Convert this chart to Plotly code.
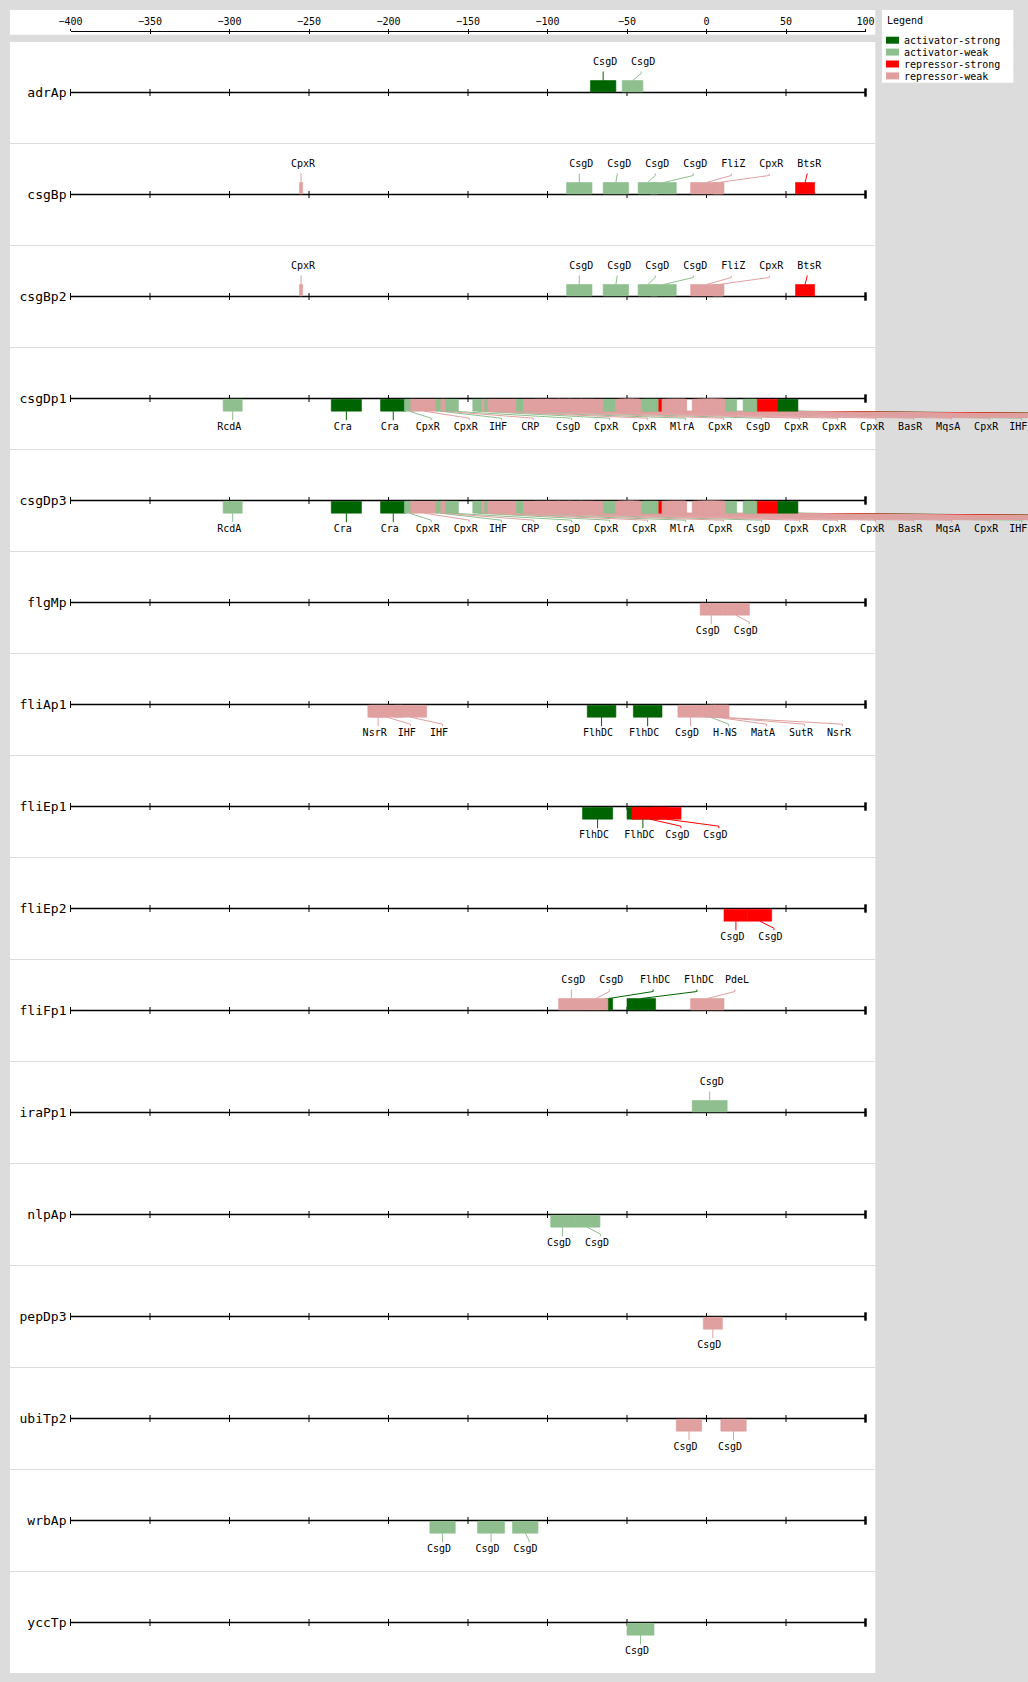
import plotly.graph_objects as go

# ---------------------------------------------------------------- data
PROMOTERS = ["adrAp", "csgBp", "csgBp2", "csgDp1", "csgDp3", "flgMp", "fliAp1", "fliEp1",
             "fliEp2", "fliFp1", "iraPp1", "nlpAp", "pepDp3", "ubiTp2", "wrbAp", "yccTp"]
PROMOTER_SIDE = ["above", "above", "above", "below", "below", "below", "below", "below",
                 "below", "above", "above", "below", "below", "below", "below", "below"]

LEGEND_KINDS = ["activator-strong", "activator-weak", "repressor-strong", "repressor-weak"]
KIND_COLORS = ["#006400", "#8fbf8f", "#ff0000", "#e0a0a0"]
AS, AW, RS, RW = LEGEND_KINDS

POSITION_TICKS = [-400, -350, -300, -250, -200, -150, -100, -50, 0, 50, 100]

# binding sites: (start, end, regulator, kind), listed in drawing order
ADRAP_SITES = [(-73, -57, "CsgD", AS), (-53, -40, "CsgD", AW)]
CSGBP_SITES = [(-256, -254, "CpxR", RW), (-88, -72, "CsgD", AW), (-65, -49, "CsgD", AW),
               (-43, -31, "CsgD", AW), (-35, -19, "CsgD", AW), (-10, 10, "FliZ", RW),
               (4, 11, "CpxR", RW), (56, 68, "BtsR", RS)]
CSGBP2_SITES = [(-256, -254, "CpxR", RW), (-88, -72, "CsgD", AW), (-65, -49, "CsgD", AW),
                (-43, -31, "CsgD", AW), (-35, -19, "CsgD", AW), (-10, 10, "FliZ", RW),
                (4, 11, "CpxR", RW), (56, 68, "BtsR", RS)]
CSGDP1_SITES = [(-304, -292, "RcdA", AW), (-236, -217, "Cra", AS), (-205, -189, "Cra", AS),
                (-190, -184, "CpxR", AW), (-186, -169, "CpxR", RW), (-170, -165, "IHF", AW),
                (-167, -163, "CRP", RW), (-164, -156, "CsgD", AW), (-147, -141, "CpxR", AW),
                (-141, -139, "CpxR", RW), (-139.5, -137, "MlrA", AW), (-137.5, -119, "CpxR", RW),
                (-119.5, -115, "CsgD", AW), (-115, -99, "CpxR", RW), (-108, -92, "CpxR", RW),
                (-101, -85, "CpxR", RW), (-94, -78, "BasR", RW), (-87, -71, "MqsA", RW),
                (-80, -65, "CpxR", RW), (-65, -57, "IHF", AW), (-57, -41, "H-NS", RW),
                (-56, -46, "CpxR", RW), (-55, -45, "CpxR", RW), (-53, -43, "RstA", RW),
                (-52, -42, "OmpR", RW), (-50, -42, "CpxR", RW), (-41, -30, "OmpR", AW),
                (-40, -31, "CsgD", AW), (-30, -28, "RcsB", RS), (-28, -12.5, "CpxR", RW),
                (-27, -14, "CpxR", RW), (-25, -13, "H-NS", RW), (-22, -13, "CsgD", RW),
                (-9, 5, "OmpR", RW), (-8, 6, "CpxR", RW), (-6, 8, "CpxR", RW),
                (-5, 10, "CpxR", RW), (-3, 11, "RstA", RW), (-2, 12, "CpxR", RW),
                (0, 12, "H-NS", RW), (12, 19, "CsgD", AW), (23, 32, "IHF", AW),
                (24, 31, "CsgD", AW), (32, 45, "RstA", RS), (45, 57.5, "Fur", AS)]
CSGDP3_SITES = list(CSGDP1_SITES)
FLGMP_SITES = [(-4, 10, "CsgD", RW), (10, 27, "CsgD", RW)]
FLIAP1_SITES = [(-213, -200, "NsrR", RW), (-211, -191, "IHF", RW), (-196, -176, "IHF", RW),
                (-75, -57, "FlhDC", AS), (-46, -28, "FlhDC", AS), (-1, 6, "H-NS", AW),
                (-18, -2, "CsgD", RW), (-2, 14, "MatA", RW), (2, 14, "SutR", RW),
                (4, 14, "NsrR", RW)]
FLIEP1_SITES = [(-78, -59, "FlhDC", AS), (-50, -30, "FlhDC", AS), (-47, -24, "CsgD", RS),
                (-34, -16, "CsgD", RS)]
FLIEP2_SITES = [(11, 26, "CsgD", RS), (26, 41, "CsgD", RS)]
FLIFP1_SITES = [(-93, -77, "CsgD", RW), (-64, -59, "FlhDC", AS), (-77, -62, "CsgD", RW),
                (-50, -32, "FlhDC", AS), (-10, 11, "PdeL", RW)]
IRAPP1_SITES = [(-9, 13, "CsgD", AW)]
NLPAP_SITES = [(-98, -83, "CsgD", AW), (-83, -67, "CsgD", AW)]
PEPDP3_SITES = [(-2, 10, "CsgD", RW)]
UBITP2_SITES = [(-19, -3, "CsgD", RW), (9, 25, "CsgD", RW)]
WRBAP_SITES = [(-174, -158, "CsgD", AW), (-144, -127, "CsgD", AW), (-122, -106, "CsgD", AW)]
YCCTP_SITES = [(-50, -33, "CsgD", AW)]

SITES_BY_PROMOTER = [ADRAP_SITES, CSGBP_SITES, CSGBP2_SITES, CSGDP1_SITES, CSGDP3_SITES,
                     FLGMP_SITES, FLIAP1_SITES, FLIEP1_SITES, FLIEP2_SITES, FLIFP1_SITES,
                     IRAPP1_SITES, NLPAP_SITES, PEPDP3_SITES, UBITP2_SITES, WRBAP_SITES,
                     YCCTP_SITES]

# ---------------------------------------------------------------- geometry
W, H = 1028, 1682
PX_PER_BP = 1.59
AXIS_X0_PX = 70.5          # pixel column of the first position tick
ROW0_PX = 92.5             # pixel row of the first promoter line
ROW_PX = 102.0             # height of one promoter band
X_LO = POSITION_TICKS[0] - AXIS_X0_PX / PX_PER_BP
X_HI = X_LO + W / PX_PER_BP
CHAR_BP = 5.8 / PX_PER_BP
LABEL_PAD_BP = 14.8 / PX_PER_BP
MONO = "DejaVu Sans Mono"
GRAY = "#dcdcdc"

color_of = dict(zip(LEGEND_KINDS, KIND_COLORS))


def row_y(i, dpx):
    return i + dpx / ROW_PX


def paper_x(p):
    return p / W


def paper_y(p):
    return 1 - p / H


# vertical offsets (px) of box, leader and label relative to the promoter line,
# plus the horizontal nudge (px) of the label text relative to its leader
GEOM = {
    "above": dict(box=(-12.0, -0.6), start=-12.0, mid=-19.0, end=-21.0, label=-30.5, nudge=2.0),
    "below": dict(box=(0.8, 12.7), start=12.7, mid=19.7, end=21.7, label=29.0, nudge=-3.5),
}

shapes = []
for x0, y0, x1, y1 in [(10, 10, 875.3, 34.7), (10, 42, 875.3, 1673), (882, 10, 1013.3, 82.7)]:
    shapes.append(dict(type="rect", xref="paper", yref="paper",
                       x0=paper_x(x0), x1=paper_x(x1), y0=paper_y(y1), y1=paper_y(y0),
                       fillcolor="white", line_width=0, layer="below"))
for i in range(1, len(PROMOTERS)):
    shapes.append(dict(type="line", xref="paper", yref="y", x0=paper_x(10), x1=paper_x(875.3),
                       y0=i - 0.5, y1=i - 0.5, line=dict(color=GRAY, width=1), layer="below"))

leader_xy = {c: ([], []) for c in KIND_COLORS}
label_x, label_y, label_t = [], [], []

for i, (sites, side) in enumerate(zip(SITES_BY_PROMOTER, PROMOTER_SIDE)):
    g = GEOM[side]
    # binding-site boxes
    for s, e, tf, kind in sites:
        c = color_of[kind]
        shapes.append(dict(type="rect", xref="x", yref="y", x0=s, x1=e,
                           y0=row_y(i, g["box"][0]), y1=row_y(i, g["box"][1]),
                           fillcolor=c, line=dict(color=c, width=0.6), layer="above"))
    # labels packed left-to-right by site centre
    prev = None
    for s, e, tf, kind in sorted(sites, key=lambda t: (t[0] + t[1]) / 2):
        cx = (s + e) / 2
        lx = cx if prev is None else max(cx, prev + len(tf) * CHAR_BP + LABEL_PAD_BP)
        prev = lx
        xs, ys = leader_xy[color_of[kind]]
        xs += [cx, lx, lx, None]
        ys += [row_y(i, g["start"]), row_y(i, g["mid"]), row_y(i, g["end"]), None]
        tx = lx + g["nudge"] / PX_PER_BP
        if tx - len(tf) * CHAR_BP / 2 < X_HI:
            label_x.append(tx)
            label_y.append(row_y(i, g["label"]))
            label_t.append(tf)

fig = go.Figure()

for c, (xs, ys) in leader_xy.items():
    fig.add_trace(go.Scatter(x=xs, y=ys, mode="lines", line=dict(color=c, width=1),
                             hoverinfo="skip", showlegend=False))

# promoter lines with position ticks
ax_x, ax_y, tk_x, tk_y = [], [], [], []
for i in range(len(PROMOTERS)):
    ax_x += [POSITION_TICKS[0], POSITION_TICKS[-1], None]
    ax_y += [i, i, None]
    tk_x += POSITION_TICKS[:-1]
    tk_y += [i] * (len(POSITION_TICKS) - 1)
fig.add_trace(go.Scatter(x=ax_x, y=ax_y, mode="lines", line=dict(color="black", width=1.3),
                         hoverinfo="skip", showlegend=False))
fig.add_trace(go.Scatter(x=tk_x, y=tk_y, mode="markers",
                         marker=dict(symbol="line-ns", size=5, line=dict(color="black", width=1)),
                         hoverinfo="skip", showlegend=False))
fig.add_trace(go.Scatter(x=[POSITION_TICKS[-1]] * len(PROMOTERS), y=list(range(len(PROMOTERS))),
                         mode="markers",
                         marker=dict(symbol="line-ns", size=6, line=dict(color="black", width=2.5)),
                         hoverinfo="skip", showlegend=False))

fig.add_trace(go.Scatter(x=label_x, y=label_y, mode="text", text=label_t,
                         textposition="middle center",
                         textfont=dict(family=MONO, size=10, color="black"),
                         hoverinfo="skip", showlegend=False))

# empty traces so the position scale along the top gets its own subplot
for ax in ("x2", "x3"):
    fig.add_trace(go.Scatter(x=[], y=[], xaxis=ax, yaxis="y", mode="markers",
                             hoverinfo="skip", showlegend=False))

# legend box
annotations = [dict(xref="paper", yref="paper", x=paper_x(884.5), y=paper_y(21), text="Legend",
                    showarrow=False, xanchor="left", yanchor="middle",
                    font=dict(family=MONO, size=10, color="black"))]
for k, (name, col) in enumerate(zip(LEGEND_KINDS, KIND_COLORS)):
    top = 36.7 + 11.9 * k
    shapes.append(dict(type="rect", xref="paper", yref="paper",
                       x0=paper_x(886), x1=paper_x(899), y0=paper_y(top + 7), y1=paper_y(top),
                       fillcolor=col, line_width=0, layer="above"))
    annotations.append(dict(xref="paper", yref="paper", x=paper_x(901.5), y=paper_y(top + 4.3),
                            text=name, showarrow=False, xanchor="left", yanchor="middle",
                            font=dict(family=MONO, size=10, color="black")))

axis_domain = [paper_x(AXIS_X0_PX),
               paper_x(AXIS_X0_PX + (POSITION_TICKS[-1] - POSITION_TICKS[0]) * PX_PER_BP)]
top_pos = paper_y(30.5)

fig.update_layout(
    width=W, height=H,
    margin=dict(l=0, r=0, t=0, b=0, pad=0, autoexpand=False),
    paper_bgcolor=GRAY, plot_bgcolor="rgba(0,0,0,0)",
    shapes=shapes, annotations=annotations,
    xaxis=dict(domain=[0, 1], range=[X_LO, X_HI], visible=False, fixedrange=True,
               automargin=False),
    yaxis=dict(domain=[0, 1], range=[(H - ROW0_PX) / ROW_PX, -ROW0_PX / ROW_PX],
               anchor="free", position=paper_x(AXIS_X0_PX - 1), ticklabelstandoff=3,
               tickmode="array", tickvals=list(range(len(PROMOTERS))), ticktext=PROMOTERS,
               ticks="", showgrid=False, zeroline=False, showline=False, automargin=False,
               tickfont=dict(family=MONO, size=13, color="black"), fixedrange=True),
    xaxis2=dict(domain=axis_domain, range=[POSITION_TICKS[0], POSITION_TICKS[-1]],
                anchor="free", position=top_pos, side="top", automargin=False,
                tickmode="array", tickvals=POSITION_TICKS, ticks="outside", ticklen=2,
                tickcolor="black", showline=True, linecolor="black", linewidth=1,
                showgrid=False, zeroline=False,
                tickfont=dict(family=MONO, size=10, color="black"), fixedrange=True),
    xaxis3=dict(domain=axis_domain, range=[POSITION_TICKS[0], POSITION_TICKS[-1]],
                anchor="free", position=top_pos, side="top", overlaying="x2", automargin=False,
                tickmode="array", tickvals=POSITION_TICKS, ticks="inside", ticklen=2,
                tickcolor="black", showticklabels=False, showline=False,
                showgrid=False, zeroline=False, fixedrange=True),
    showlegend=False,
)

fig.write_html("out.html")
